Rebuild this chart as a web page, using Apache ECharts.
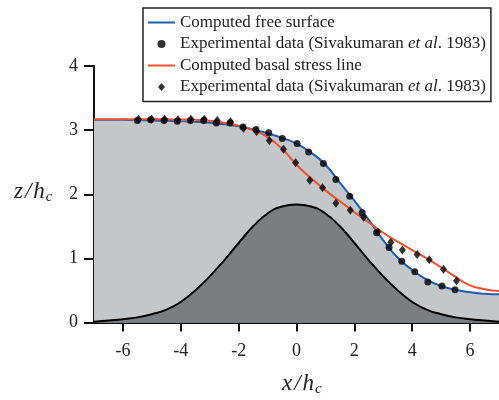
<!DOCTYPE html>
<html>
<head>
<meta charset="utf-8">
<script src="https://cdn.jsdelivr.net/npm/echarts@6/dist/echarts.min.js"></script>
<style>
  html, body { margin: 0; padding: 0; background: #fff; }
  #chart { width: 499px; height: 400px; }
</style>
</head>
<body>
<div id="chart"></div>
<script>
// x positions of the computed curves (x / h_c)
const curveX = [-7, -6.5, -6, -5.5, -5, -4.5, -4, -3.5, -3, -2.5, -2, -1.5, -1, -0.5, 0,
  0.5, 1, 1.5, 2, 2.5, 3, 3.5, 4, 4.5, 5, 5.5, 6, 6.5, 7];

// bed (hill) height
const hill = [0.01, 0.03, 0.05, 0.08, 0.13, 0.20, 0.32, 0.50, 0.72, 0.97, 1.24, 1.50, 1.70, 1.81, 1.84,
  1.81, 1.70, 1.50, 1.24, 0.97, 0.72, 0.50, 0.32, 0.20, 0.13, 0.08, 0.05, 0.03, 0.01];

// computed free surface
const freeSurface = [3.16, 3.16, 3.16, 3.155, 3.15, 3.145, 3.14, 3.13, 3.115, 3.09, 3.06, 3.01, 2.95, 2.88, 2.79,
  2.65, 2.46, 2.18, 1.90, 1.60, 1.28, 1.01, 0.82, 0.67, 0.57, 0.51, 0.47, 0.45, 0.44];

// computed basal stress line
const basalLine = [3.17, 3.17, 3.17, 3.17, 3.17, 3.168, 3.165, 3.16, 3.145, 3.115, 3.07, 3.00, 2.89, 2.71, 2.46,
  2.25, 2.06, 1.89, 1.72, 1.56, 1.40, 1.26, 1.13, 1.00, 0.86, 0.71, 0.58, 0.52, 0.49];

// experimental data, free surface (circles)
const surfExpX = [-5.50, -5.04, -4.58, -4.12, -3.67, -3.21, -2.77, -2.30, -1.85, -1.40, -0.96, -0.49, 0.02,
  0.42, 0.93, 1.36, 1.84, 2.27, 2.77, 3.20, 3.64, 4.09, 4.54, 5.03, 5.48];
const surfExpY = [3.15, 3.16, 3.15, 3.14, 3.15, 3.15, 3.11, 3.11, 3.05, 3.01, 2.96, 2.87, 2.79,
  2.66, 2.48, 2.23, 1.97, 1.71, 1.40, 1.17, 0.955, 0.79, 0.63, 0.57, 0.51];

// experimental data, basal stress (diamonds)
const basalExpX = [-5.46, -5.01, -4.56, -4.10, -3.65, -3.19, -2.74, -2.28, -1.83, -1.38, -0.94, -0.45, -0.03,
  0.46, 0.90, 1.36, 1.86, 2.32, 2.81, 3.26, 3.66, 4.17, 4.59, 5.08, 5.53];
const basalExpY = [3.17, 3.17, 3.17, 3.16, 3.17, 3.17, 3.15, 3.13, 3.03, 2.98, 2.84, 2.70, 2.49,
  2.22, 2.10, 1.86, 1.75, 1.64, 1.41, 1.25, 1.13, 1.06, 0.98, 0.83, 0.65];

const xTicks = [-6, -4, -2, 0, 2, 4, 6];

const legendLabels = {
  surf: 'Computed free surface',
  surfExp: 'Experimental data (Sivakumaran {i|et al}. 1983)',
  basal: 'Computed basal stress line',
  basalExp: 'Experimental data (Sivakumaran {i|et al}. 1983)'
};

const BLUE = '#1d5db3';
const RED = '#f0502a';
const LIGHT = '#c3c7c9';
const DARK = '#7b7e81';
const SERIF = '"Liberation Serif", "DejaVu Serif", serif';

const zip = (xs, ys) => xs.map((x, i) => [x, ys[i]]);

const nameRich = {
  i: { fontFamily: SERIF, fontSize: 23, fontStyle: 'italic', fill: '#222' },
  sl: { fontFamily: SERIF, fontSize: 23, fontStyle: 'italic', fill: '#222', padding: [0, 2, 0, 2] },
  s: { fontFamily: SERIF, fontSize: 15, fontStyle: 'italic', fill: '#222', padding: [12, 0, 0, 1] }
};

const chart = echarts.init(document.getElementById('chart'));
chart.setOption({
  animation: false,
  grid: { left: 94, top: 66, width: 411, height: 256.5, containLabel: false },
  xAxis: {
    type: 'value',
    min: -7,
    max: 7,
    axisLine: { onZero: false, lineStyle: { color: '#111', width: 2 } },
    axisTick: { length: 9, lineStyle: { color: '#111', width: 2 }, customValues: xTicks },
    axisLabel: { customValues: xTicks, margin: 20, color: '#222', fontSize: 18, fontFamily: SERIF },
    splitLine: { show: false }
  },
  yAxis: {
    type: 'value',
    min: 0,
    max: 4,
    interval: 1,
    axisLine: { show: true, onZero: false, lineStyle: { color: '#111', width: 2 } },
    axisTick: { show: true, length: 10, lineStyle: { color: '#111', width: 2 } },
    axisLabel: { margin: 16, color: '#222', fontSize: 18, fontFamily: SERIF },
    splitLine: { show: false }
  },
  legend: {
    orient: 'vertical',
    left: 143,
    top: 8,
    padding: [6, 5, 6, 5],
    itemWidth: 27,
    itemHeight: 8,
    itemGap: 4.5,
    itemTextGap: 5,
    selectedMode: false,
    backgroundColor: '#fff',
    borderColor: '#222',
    borderWidth: 1.5,
    borderRadius: 0,
    data: [
      { name: 'surf', icon: 'path://M0,0H27V2H0Z' },
      { name: 'surfExp', icon: 'circle' },
      { name: 'basal', icon: 'path://M0,0H27V2H0Z' },
      { name: 'basalExp', icon: 'path://M3.5,0L7,4L3.5,8L0,4Z' }
    ],
    formatter: name => legendLabels[name],
    textStyle: {
      fontFamily: SERIF, fontSize: 17, lineHeight: 17, color: '#222',
      rich: { i: { fontFamily: SERIF, fontSize: 17, fontStyle: 'italic', color: '#222' } }
    }
  },
  graphic: [
    {
      type: 'text', left: 14, top: 180,
      style: { text: '{i|z}{sl|/}{i|h}{s|c}', rich: nameRich }
    },
    {
      type: 'text', left: 282, top: 372,
      style: { text: '{i|x}{sl|/}{i|h}{s|c}', rich: nameRich }
    }
  ],
  series: [
    {
      name: 'surf',
      type: 'line',
      data: zip(curveX, freeSurface),
      smooth: 0.5,
      symbol: 'none',
      color: BLUE,
      lineStyle: { color: BLUE, width: 2 },
      areaStyle: { color: LIGHT, opacity: 1, origin: 'start' },
      z: 1
    },
    {
      name: 'hill',
      type: 'line',
      data: zip(curveX, hill),
      smooth: 0.5,
      symbol: 'none',
      lineStyle: { color: '#000', width: 2 },
      areaStyle: { color: DARK, opacity: 1, origin: 'start' },
      z: 2
    },
    {
      name: 'basal',
      type: 'line',
      data: zip(curveX, basalLine),
      smooth: 0.5,
      symbol: 'none',
      color: RED,
      lineStyle: { color: RED, width: 2 },
      z: 3
    },
    {
      name: 'surfExp',
      type: 'scatter',
      data: zip(surfExpX, surfExpY),
      symbol: 'circle',
      symbolSize: 7,
      itemStyle: { color: '#000' },
      z: 4
    },
    {
      name: 'basalExp',
      type: 'scatter',
      data: zip(basalExpX, basalExpY),
      symbol: 'diamond',
      symbolSize: [7, 9],
      itemStyle: { color: '#000' },
      z: 4
    }
  ]
});
</script>
</body>
</html>
